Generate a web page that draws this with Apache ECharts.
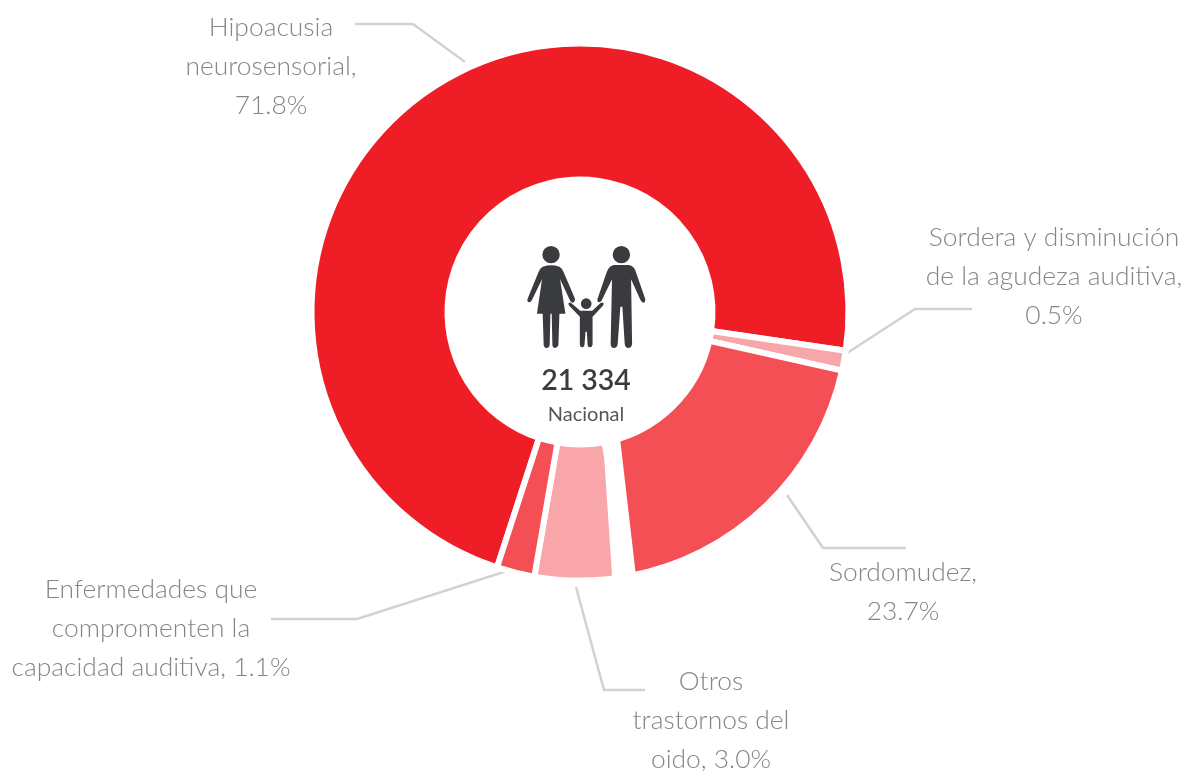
<!DOCTYPE html>
<html><head><meta charset="utf-8">
<style>html,body{margin:0;padding:0;background:#fff}#c{width:1196px;height:772px}</style>
<script src="https://cdn.jsdelivr.net/npm/echarts@6/dist/echarts.min.js"></script>
</head><body><div id="c"></div>
<script>
const categories = ['Hipoacusia\nneurosensorial,', 'Sordera y disminución\nde la agudeza auditiva,', 'Sordomudez,', 'Otros\ntrastornos del\noido,', 'Enfermedades que\ncompromenten la\ncapacidad auditiva,'];
// Percentages as printed on the labels
const printedShares = ['71.8%', '0.5%', '23.7%', '3.0%', '1.1%'];
const drawnArcShares = [72.3, 1.2, 18.55, 5.67, 2.28];
const sliceColors = ['#EF1D26', '#F9A6AA', '#F34F55', '#F9A6AA', '#F34F55'];
const labelSep = ['\n', '\n', '\n', ' ', ' '];
const labelAnchors = [[271,66],[1054,276],[903,592],[711,720],[151,628]];
const leaderLines = [
  [[465,62],[413,24],[355,24]],
  [[841,357],[915,309],[972,309]],
  [[787,495],[823,548],[906,548]],
  [[576,587],[604,690],[645,690]],
  [[510,570],[357,619],[271,619]]
];
const totalText = '21 334';
const scopeText = 'Nacional';
const FONT = 'Lato';
const familyIcon = 'M127,104a26,26 0 1,0 52,0a26,26 0 1,0 -52,0Z M337,104a26,26 0 1,0 52,0a26,26 0 1,0 -52,0Z M242,251a16,16 0 1,0 32,0a16,16 0 1,0 -32,0Z '
 + 'M128,140Q153,132 178,140Q186,144 190,155L224,235Q226,245 218,248Q212,248 209,240L180,178L196,281L178,281L175,375Q172,384 165,384Q158,384 157,375L155,281L151,281L149,375Q147,384 140,384Q132,384 131,375L128,281L111,281L126,178L96,240Q92,248 87,247Q80,244 83,236L116,155Q120,144 128,140Z '
 + 'M340,135L386,135Q400,138 405,152L434,236Q436,245 429,248Q424,248 420,240L392,178L395,372Q393,384 384,384Q375,384 373,372L366,260L360,260L352,372Q350,384 341,384Q332,384 331,372L335,178L305,240Q301,248 295,247Q289,243 292,236L318,160Q325,138 340,135Z '
 + 'M205,250Q210,245 214,250L240,272L276,272L300,250Q306,245 310,250Q311,254 307,258L277,290L277,374Q275,382 269,382Q263,382 262,374L260,335L256,335L253,374Q251,382 246,382Q240,382 239,374L239,290L208,258Q204,254 205,250Z';

const chart = echarts.init(document.getElementById('c'), null, {renderer:'canvas'});
chart.setOption({
  backgroundColor:'#fff',
  animation:false,
  series:[{
    type:'pie',
    center:[580,312],
    radius:[132.5,268.5],
    startAngle:252,
    clockwise:true,
    avoidLabelOverlap:false,
    itemStyle:{borderColor:'#fff',borderWidth:6},
    emphasis:{disabled:true},
    data:categories.map((c,i)=>({
      name:c, value:drawnArcShares[i],
      itemStyle:{color:sliceColors[i]},
      label:{formatter:c+labelSep[i]+printedShares[i]}
    })),
    label:{show:true,position:'outside',color:'#858585',fontFamily:FONT,fontWeight:300,fontSize:26.4,lineHeight:39,align:'center',alignTo:'none'},
    labelLine:{show:true,lineStyle:{color:'#d2d2d2',width:2.5}},
    labelLayout:function(p){
      return {x:labelAnchors[p.dataIndex][0],y:labelAnchors[p.dataIndex][1],align:'center',verticalAlign:'middle',labelLinePoints:leaderLines[p.dataIndex],hideOverlap:false};
    }
  },{
    type:'custom',
    coordinateSystem:'none',
    silent:true,
    data:[0],
    renderItem:function(){
      return {type:'path',shape:{pathData:familyIcon,layout:'cover',x:527.3,y:246,width:118,height:102},style:{fill:'#3A3B3F'}};
    }
  }],
  graphic:[
    // the reference's gap between Sordomudez and Otros is wider than the others; pie borders are uniform
    {type:'polygon',silent:true,z:100,shape:{points:[[620,438],[637,585],[613,590],[603,440]]},style:{fill:'#fff'}},
    {type:'text',silent:true,z:100,x:586,y:381,style:{text:totalText,fill:'#3A3B3F',font:'600 28.5px '+FONT,textAlign:'center',textVerticalAlign:'middle'}},
    {type:'text',silent:true,z:100,x:586,y:415,style:{text:scopeText,fill:'#55565a',font:'400 20px '+FONT,textAlign:'center',textVerticalAlign:'middle'}}
  ]
});
</script></body></html>
